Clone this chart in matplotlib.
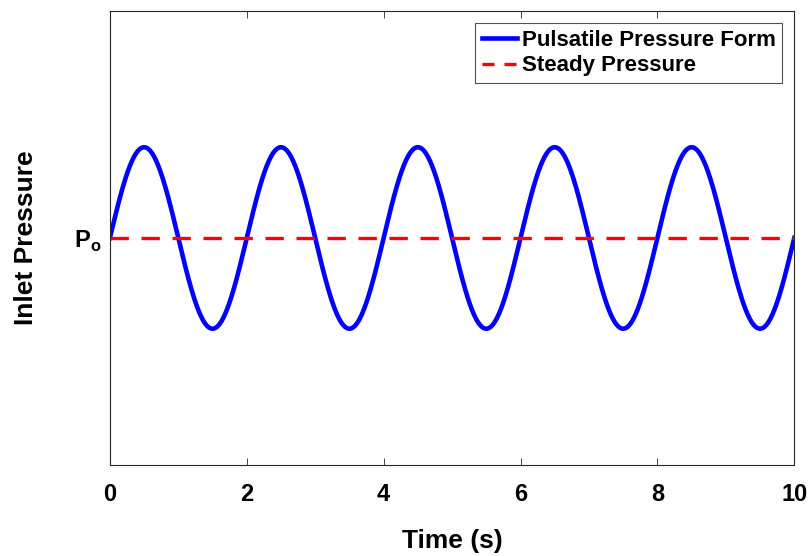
import numpy as np
import matplotlib
matplotlib.use("Agg")
import matplotlib.pyplot as plt

# values
t_start, t_end = 0, 10
period = 2.0          # s, five full cycles over 10 s
amplitude = 1.0       # relative to Po
p_steady = 0.0        # Po level
y_range = (-2.5, 2.5)
x_ticks = [0, 2, 4, 6, 8, 10]
y_ticks = [0.0]
y_tick_labels = ["P$_\\mathregular{o}$"]
series_labels = ["Pulsatile Pressure Form", "Steady Pressure"]

plt.rcParams["font.family"] = ["Liberation Sans", "DejaVu Sans"]
plt.rcParams["font.weight"] = "bold"

fig = plt.figure(figsize=(8.08, 5.56), dpi=100)
ax = fig.add_axes([0.136, 0.164, 0.847, 0.816])

t = np.linspace(t_start, t_end, 1001)
p = p_steady + amplitude * np.sin(2 * np.pi * t / period)

ax.plot(t, p, color="#0000ff", lw=3.3, label=series_labels[0])
ax.plot([t_start, t_end], [p_steady, p_steady], color="#ff0000", lw=2.4,
        linestyle=(0, (5.5, 3.8)), label=series_labels[1])

ax.set_xlim(t_start, t_end)
ax.set_ylim(*y_range)
ax.set_xticks(x_ticks)
ax.set_yticks(y_ticks)
ax.set_yticklabels(y_tick_labels)
ax.tick_params(axis="both", labelsize=17, length=5, width=0.6, colors="#262626",
               direction="in", top=True, right=True, pad=13)
ax.tick_params(axis="y", length=0, pad=6)
for lab in ax.get_xticklabels() + ax.get_yticklabels():
    lab.set_color("black")
    lab.set_fontweight("bold")

for s in ax.spines.values():
    s.set_linewidth(0.8)
    s.set_color("#262626")

ax.set_xlabel("Time (s)", fontsize=19, fontweight="bold", labelpad=17)
ax.set_ylabel("Inlet Pressure", fontsize=19, fontweight="bold", labelpad=26)

leg = ax.legend(loc="upper right", fontsize=16, frameon=True, fancybox=False,
                handlelength=1.6, handletextpad=0.2, borderpad=0.3,
                labelspacing=0.2, borderaxespad=0.55)
leg.get_frame().set_edgecolor("#262626")
leg.get_frame().set_linewidth(0.8)
for txt in leg.get_texts():
    txt.set_fontweight("bold")
# two dashes in the legend key, as in the reference
leg.get_lines()[1].set_linestyle((0, (3.6, 3.0)))

fig.savefig("out.png", dpi=100)
